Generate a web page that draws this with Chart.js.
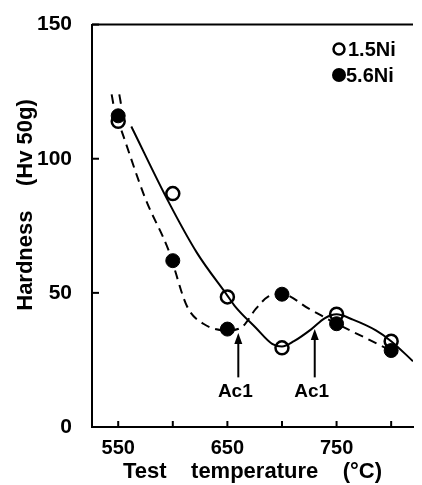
<!DOCTYPE html>
<html>
<head>
<meta charset="utf-8">
<script src="https://cdn.jsdelivr.net/npm/chart.js@4"></script>
<style>
html, body { margin: 0; padding: 0; background: #fff; }
#wrap { width: 422px; height: 485px; }
</style>
</head>
<body>
<div id="wrap"><canvas id="graph"></canvas></div>
<script>
// measured points
var temps = [550, 600, 650, 700, 750, 800];
var ni15 = [114, 87, 48.5, 29.5, 42, 32];
var ni56 = [116, 62, 36.5, 49.5, 38.5, 28.5];

// hand drawn curves
var fit15T = [562, 596, 622, 650, 657, 676, 691, 700, 711, 727, 739, 750, 765, 786, 800, 820];
var fit15V = [112, 84, 65, 49, 45, 37, 31, 30, 32, 36.5, 40.5, 42, 40, 36, 32, 24.5];
var fit56T = [553, 575, 596, 613, 628, 650, 664, 676, 687, 700, 725, 750, 775, 800, 806];
var fit56V = [110.5, 85, 66, 45, 38.5, 36, 37.5, 44, 48.5, 49.5, 44, 38.5, 33.5, 28.5, 27.5];

// short marks above the 550 points
var markAT = [544, 545.5];
var markAV = [124, 120.5];
var markBT = [551, 552.5];
var markBV = [124, 120.5];

// Ac1 arrows
var acT = [660, 730];
var acTip = [35, 36.5];
var acBase = 18.5;
var acLabel = "Ac1";

var xTicks = [550, 600, 650, 700, 750, 800];
var xLabels = ["550", "", "650", "", "750", ""];
var yTicks = [0, 50, 100, 150];

var FONT = "'Liberation Sans', Arial, sans-serif";

function pts(xs, ys) {
  var out = [];
  for (var i = 0; i < xs.length; i++) out.push({x: xs[i], y: ys[i]});
  return out;
}

var extras = {
  id: "extras",
  afterDraw: function(chart) {
    var ctx = chart.ctx;
    var xs = chart.scales.x, ys = chart.scales.y;
    var area = chart.chartArea;
    ctx.save();
    ctx.strokeStyle = "#000";
    ctx.fillStyle = "#000";
    // top frame line
    ctx.lineWidth = 2;
    ctx.beginPath();
    ctx.moveTo(area.left, area.top);
    ctx.lineTo(area.right, area.top);
    ctx.stroke();
    // inner tick marks
    xTicks.forEach(function(t) {
      var px = xs.getPixelForValue(t);
      ctx.beginPath();
      ctx.moveTo(px, area.bottom);
      ctx.lineTo(px, area.bottom - 6);
      ctx.stroke();
    });
    yTicks.forEach(function(t) {
      var py = ys.getPixelForValue(t);
      ctx.beginPath();
      ctx.moveTo(area.left, py);
      ctx.lineTo(area.left + 7, py);
      ctx.stroke();
    });
    // arrows
    ctx.font = "bold 19px " + FONT;
    ctx.textAlign = "center";
    ctx.textBaseline = "middle";
    acT.forEach(function(t, i) {
      var px = xs.getPixelForValue(t);
      var top = ys.getPixelForValue(acTip[i]);
      var bot = ys.getPixelForValue(acBase);
      ctx.lineWidth = 2;
      ctx.beginPath();
      ctx.moveTo(px, bot);
      ctx.lineTo(px, top + 6);
      ctx.stroke();
      ctx.beginPath();
      ctx.moveTo(px, top);
      ctx.lineTo(px - 4, top + 11);
      ctx.lineTo(px + 4, top + 11);
      ctx.closePath();
      ctx.fill();
      ctx.fillText(acLabel, px - 3, bot + 14);
    });
    // legend
    ctx.font = "bold 20px " + FONT;
    ctx.textAlign = "left";
    ctx.lineWidth = 2.5;
    ctx.beginPath();
    ctx.arc(339, 49, 5.5, 0, Math.PI * 2);
    ctx.stroke();
    ctx.fillText("1.5Ni", 348, 50);
    ctx.beginPath();
    ctx.arc(339, 75, 7, 0, Math.PI * 2);
    ctx.fill();
    ctx.fillText("5.6Ni", 346, 76);
    // y title
    ctx.font = "bold 22px " + FONT;
    ctx.translate(26, 205);
    ctx.rotate(-Math.PI / 2);
    ctx.textAlign = "center";
    ctx.fillText("Hardness    (Hv 50g)", 0, 0);
    ctx.restore();
  }
};

var lineBase = {
  borderColor: "#000",
  borderWidth: 2,
  pointRadius: 0,
  fill: false,
  cubicInterpolationMode: "monotone"
};

new Chart(document.getElementById("graph"), {
  type: "scatter",
  data: {
    datasets: [
      Object.assign({}, lineBase, {label: "fit 1.5Ni", data: pts(fit15T, fit15V), showLine: true}),
      Object.assign({}, lineBase, {label: "fit 5.6Ni", data: pts(fit56T, fit56V), showLine: true, borderDash: [9, 6]}),
      Object.assign({}, lineBase, {label: "m1", data: pts(markAT, markAV), showLine: true}),
      Object.assign({}, lineBase, {label: "m2", data: pts(markBT, markBV), showLine: true}),
      {
        label: "5.6Ni",
        data: pts(temps, ni56),
        pointRadius: 7,
        pointBackgroundColor: "#000",
        pointBorderColor: "#000",
        pointBorderWidth: 1,
        showLine: false
      },
      {
        label: "1.5Ni",
        data: pts(temps, ni15),
        pointRadius: 6.5,
        pointBackgroundColor: "#fff",
        pointBorderColor: "#000",
        pointBorderWidth: 2.5,
        showLine: false
      }
    ]
  },
  options: {
    responsive: true,
    maintainAspectRatio: false,
    animation: false,
    layout: { padding: { top: 20, right: 0, left: 0, bottom: 0 } },
    plugins: { legend: { display: false }, tooltip: { enabled: false } },
    scales: {
      x: {
        type: "linear",
        min: 526,
        max: 820,
        afterBuildTicks: function(scale) {
          scale.ticks = xTicks.map(function(v) { return {value: v}; });
        },
        afterFit: function(scale) { scale.height = 58; },
        grid: { display: false },
        border: { display: true, color: "#000", width: 2 },
        ticks: {
          color: "#000",
          font: { family: FONT, size: 20, weight: "bold" },
          padding: 1,
          maxRotation: 0,
          autoSkip: false,
          callback: function(v) { return xLabels[xTicks.indexOf(v)]; }
        },
        title: {
          display: true,
          text: "Test    temperature    (\u00b0C)",
          color: "#000",
          font: { family: FONT, size: 22, weight: "bold" },
          padding: { top: 0, bottom: 0 }
        }
      },
      y: {
        min: 0,
        max: 150,
        afterBuildTicks: function(scale) {
          scale.ticks = yTicks.map(function(v) { return {value: v}; });
        },
        afterFit: function(scale) { scale.width = 92; },
        grid: { display: false },
        border: { display: true, color: "#000", width: 2 },
        ticks: {
          color: "#000",
          font: { family: FONT, size: 21, weight: "bold" },
          padding: 12
        }
      }
    }
  },
  plugins: [extras]
});
</script>
</body>
</html>
